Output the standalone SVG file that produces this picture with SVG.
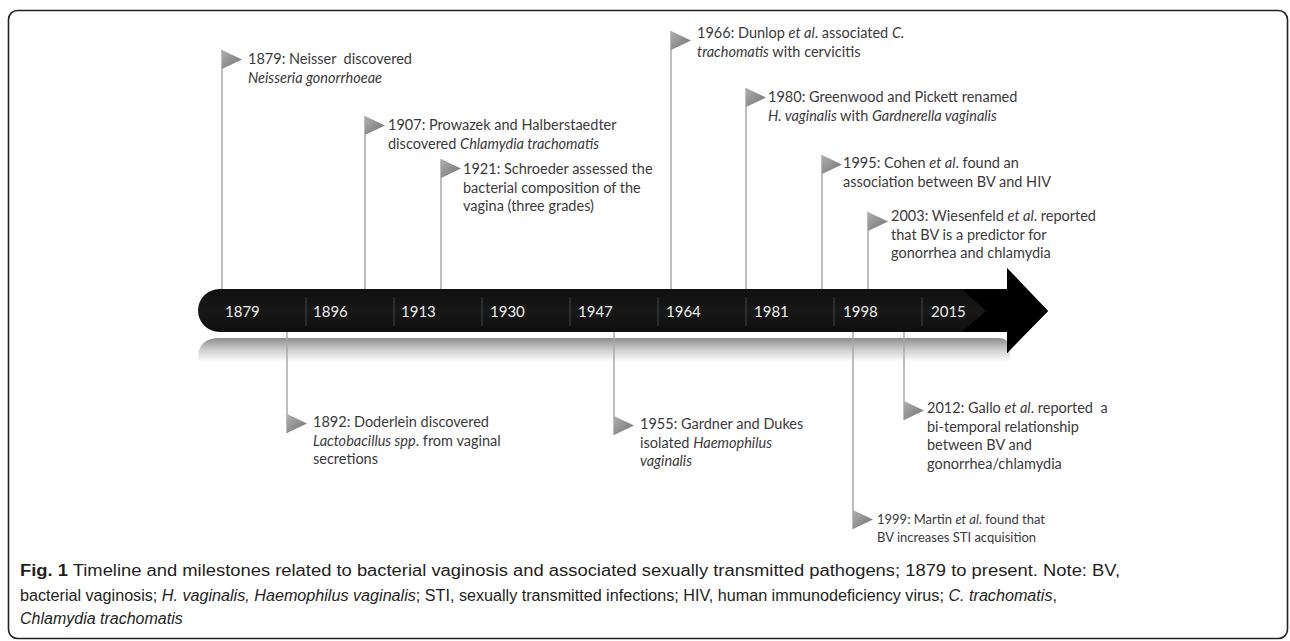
<svg xmlns="http://www.w3.org/2000/svg" width="1290" height="641" viewBox="0 0 1290 641">
<defs>
<linearGradient id="barG" x1="0" y1="0" x2="0" y2="1">
<stop offset="0" stop-color="#4a4a4a"/>
<stop offset="0.08" stop-color="#0a0a0a"/>
<stop offset="0.5" stop-color="#181818"/>
<stop offset="1" stop-color="#050505"/>
</linearGradient>
<linearGradient id="reflG" x1="0" y1="0" x2="0" y2="1">
<stop offset="0" stop-color="#8c8c8c"/>
<stop offset="0.5" stop-color="#cfcfcf"/>
<stop offset="1" stop-color="#ffffff"/>
</linearGradient>
<linearGradient id="flagG" x1="0" y1="0" x2="1" y2="1">
<stop offset="0" stop-color="#b0b0b0"/>
<stop offset="1" stop-color="#707070"/>
</linearGradient>
<symbol id="flag" overflow="visible">
<polygon points="0,0 20,9.5 0,19" fill="url(#flagG)"/>
</symbol>
</defs>
<style>
.lbl{font-family:Lato,"Liberation Sans",sans-serif;font-size:14.5px;fill:#3a3a3a}
.sm{font-size:13px}
.yr{font-family:Lato,"Liberation Sans",sans-serif;font-size:15px;fill:#ececec}
.pole{stroke:#a8a8a8;stroke-width:1.5;fill:none}
.div{stroke:#444;stroke-width:1}
.cap{font-family:"Liberation Sans",Arial,sans-serif;font-size:16px;fill:#231f20}
.it{font-style:italic}
.b{font-weight:bold}
</style>
<rect x="8.5" y="10.5" width="1279" height="628" rx="9" fill="#fff" stroke="#222" stroke-width="1.6"/>

<g id="timeline">
<path d="M198,362 L198,358 Q198,338 220,338 L998,338 Q1010,338 1010,350 L1010,362 Z" fill="url(#reflG)"/>
<path d="M219.5,289 L1007,289 L1007,268 L1048,311 L1007,353 L1007,332 L219.5,332 A21.5,21.5 0 0 1 219.5,289 Z" fill="url(#barG)"/>
<polygon points="962,289 1007,289 1007,268 1048,311 1007,353 1007,332 962,332 986,311" fill="#000"/>
<g>
<line class="div" x1="306" y1="297" x2="306" y2="326"/>
<line class="div" x1="394" y1="297" x2="394" y2="326"/>
<line class="div" x1="482" y1="297" x2="482" y2="326"/>
<line class="div" x1="570" y1="297" x2="570" y2="326"/>
<line class="div" x1="658" y1="297" x2="658" y2="326"/>
<line class="div" x1="746" y1="297" x2="746" y2="326"/>
<line class="div" x1="834" y1="297" x2="834" y2="326"/>
<line class="div" x1="922" y1="297" x2="922" y2="326"/>
</g>
<text class="yr" x="225" y="317">1879</text>
<text class="yr" x="313" y="317">1896</text>
<text class="yr" x="401" y="317">1913</text>
<text class="yr" x="490" y="317">1930</text>
<text class="yr" x="578" y="317">1947</text>
<text class="yr" x="666" y="317">1964</text>
<text class="yr" x="754" y="317">1981</text>
<text class="yr" x="843" y="317">1998</text>
<text class="yr" x="931" y="317">2015</text>
</g>

<g id="connectors">
<line class="pole" x1="222" y1="50" x2="222" y2="289"/>
<line class="pole" x1="365" y1="116" x2="365" y2="289"/>
<line class="pole" x1="441" y1="159" x2="441" y2="289"/>
<line class="pole" x1="671" y1="31" x2="671" y2="289"/>
<line class="pole" x1="746" y1="88" x2="746" y2="289"/>
<line class="pole" x1="822" y1="155" x2="822" y2="289"/>
<line class="pole" x1="868" y1="212" x2="868" y2="289"/>
<line class="pole" x1="287" y1="332" x2="287" y2="433"/>
<line class="pole" x1="614" y1="332" x2="614" y2="435"/>
<line class="pole" x1="904" y1="332" x2="904" y2="420"/>
<line class="pole" x1="853" y1="332" x2="853" y2="529"/>
</g>

<g id="m1879"><use href="#flag" x="222" y="50"/>
<text class="lbl" x="248" y="64">1879: Neisser&#160; discovered<tspan x="248" dy="18.5" class="it">Neisseria gonorrhoeae</tspan></text></g>

<g id="m1907"><use href="#flag" x="365" y="116"/>
<text class="lbl" x="388" y="130">1907: Prowazek and Halberstaedter<tspan x="388" dy="18.5">discovered </tspan><tspan class="it">Chlamydia trachomatis</tspan></text></g>

<g id="m1921"><use href="#flag" x="441" y="159"/>
<text class="lbl" x="463" y="174">1921: Schroeder assessed the<tspan x="463" dy="18.5">bacterial composition of the</tspan><tspan x="463" dy="18.5">vagina (three grades)</tspan></text></g>

<g id="m1966"><use href="#flag" x="671" y="31"/>
<text class="lbl" x="697" y="38">1966: Dunlop <tspan class="it">et al</tspan>. associated <tspan class="it">C.</tspan><tspan x="697" dy="18.5" class="it">trachomatis</tspan> with cervicitis</text></g>

<g id="m1980"><use href="#flag" x="746" y="88"/>
<text class="lbl" x="768" y="102">1980: Greenwood and Pickett renamed<tspan x="768" dy="18.5" class="it">H. vaginalis</tspan> with <tspan class="it">Gardnerella vaginalis</tspan></text></g>

<g id="m1995"><use href="#flag" x="822" y="155"/>
<text class="lbl" x="843" y="168">1995: Cohen <tspan class="it">et al</tspan>. found an<tspan x="843" dy="18.5">association between BV and HIV</tspan></text></g>

<g id="m2003"><use href="#flag" x="868" y="212"/>
<text class="lbl" x="891" y="221">2003: Wiesenfeld <tspan class="it">et al</tspan>. reported<tspan x="891" dy="18.5">that BV is a predictor for</tspan><tspan x="891" dy="18.5">gonorrhea and chlamydia</tspan></text></g>

<g id="m1892"><use href="#flag" x="287" y="414"/>
<text class="lbl" x="313" y="427">1892: Doderlein discovered<tspan x="313" dy="18.5" class="it">Lactobacillus spp</tspan>. from vaginal<tspan x="313" dy="18.5">secretions</tspan></text></g>

<g id="m1955"><use href="#flag" x="614" y="416"/>
<text class="lbl" x="640" y="429">1955: Gardner and Dukes<tspan x="640" dy="18.5">isolated </tspan><tspan class="it">Haemophilus</tspan><tspan x="640" dy="18.5" class="it">vaginalis</tspan></text></g>

<g id="m2012"><use href="#flag" x="904" y="401"/>
<text class="lbl" x="927" y="413">2012: Gallo <tspan class="it">et al</tspan>. reported&#160; a<tspan x="927" dy="18.5">bi-temporal relationship</tspan><tspan x="927" dy="18.5">between BV and</tspan><tspan x="927" dy="18.5">gonorrhea/chlamydia</tspan></text></g>

<g id="m1999"><use href="#flag" x="853" y="510"/>
<text class="lbl sm" x="877" y="524">1999: Martin <tspan class="it">et al</tspan>. found that<tspan x="877" dy="17.5">BV increases STI acquisition</tspan></text></g>

<g id="caption">
<text class="cap" x="20" y="576" textLength="1100" lengthAdjust="spacingAndGlyphs"><tspan class="b">Fig. 1</tspan> Timeline and milestones related to bacterial vaginosis and associated sexually transmitted pathogens; 1879 to present. Note: BV,</text>
<text class="cap" x="20" y="601" textLength="1037" lengthAdjust="spacingAndGlyphs">bacterial vaginosis; <tspan class="it">H. vaginalis, Haemophilus vaginalis</tspan>; STI, sexually transmitted infections; HIV, human immunodeficiency virus; <tspan class="it">C. trachomatis</tspan>,</text>
<text class="cap it" x="20" y="624">Chlamydia trachomatis</text>
</g>
</svg>
